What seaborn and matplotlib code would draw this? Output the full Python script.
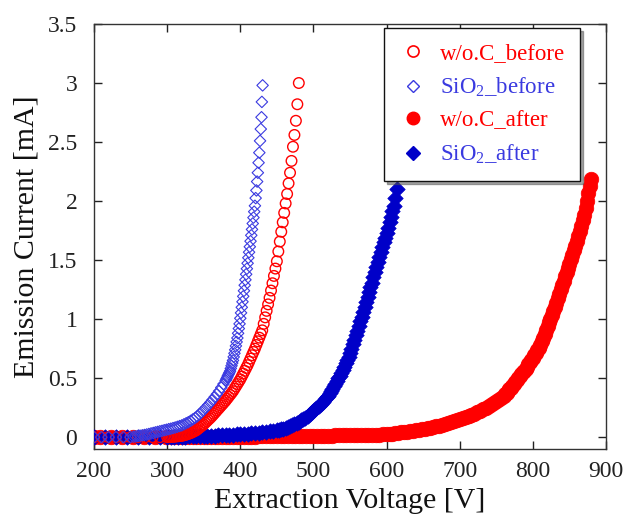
import matplotlib
matplotlib.use("Agg")
import matplotlib.pyplot as plt
import seaborn as sns
import pandas as pd
from matplotlib.lines import Line2D

# ---------------- data ----------------
# w/o.C_before (open red circles)
woc_before_v = [200, 210, 220, 230, 240, 250, 260, 270, 280, 290, 300,
                302, 304, 306, 308, 310, 312, 314, 316, 318, 320,
                322, 324, 326, 328, 330, 332, 334, 336, 338, 340,
                342, 344, 346, 348, 350, 352, 354, 356, 358, 360,
                362, 364, 366, 368, 370, 372, 374, 376, 378, 380,
                382, 384, 386, 388, 390, 392, 394, 396, 398, 400,
                402, 404, 406, 408, 410, 412, 414, 416, 418, 420,
                422, 424, 426, 428, 430, 432, 434, 436, 438, 440,
                442, 444, 446, 448, 450, 452, 454, 456, 458, 460,
                462, 464, 466, 468, 470, 472, 474, 476, 478, 480]
woc_before_i = [0, 0, 0, 0, 0, 0, 0, 0, 0, 0, 0,
                .001, .002, .003, .004, .005, .006, .008, .009, .010, .012,
                .015, .018, .022, .026, .030, .035, .041, .047, .053, .060,
                .070, .080, .090, .100, .110, .122, .134, .146, .158, .170,
                .184, .198, .212, .226, .240, .254, .268, .282, .296, .310,
                .326, .342, .358, .374, .390, .410, .430, .450, .470, .490,
                .514, .538, .562, .586, .610, .638, .666, .694, .722, .750,
                .781, .812, .843, .874, .905, .960, 1.015, 1.070, 1.125, 1.180,
                1.242, 1.304, 1.366, 1.428, 1.490, 1.573, 1.657, 1.740, 1.820, 1.900,
                1.980, 2.060, 2.150, 2.240, 2.340, 2.460, 2.560, 2.680, 2.820, 3.000]

# SiO2_before (open blue diamonds)
sio2_before_v = [200, 210, 220, 230, 240, 250,
                 254, 257, 260, 263, 266, 269, 272, 275, 278, 281,
                 284, 287, 290, 293, 296, 299, 302, 305, 308, 311,
                 314, 317, 320, 323, 326, 329, 332, 335, 338, 341,
                 344, 347, 350, 353, 356, 359, 362, 365, 368, 371,
                 374, 377, 380,
                 381, 382, 383, 384, 385, 386, 387, 388, 389, 390,
                 391, 392, 393, 394, 395, 396, 397, 398, 399, 400,
                 401, 402, 403, 404, 405, 406, 407, 408, 409, 410,
                 411, 412, 413, 414, 415, 416, 417, 418, 419, 420,
                 421, 422, 423, 424, 425, 426, 427, 428,
                 429, 429.5, 430.5]
sio2_before_i = [0, 0, 0, 0, 0, 0,
                 .004, .007, .010, .013, .016, .019, .023, .027, .032, .036,
                 .041, .045, .050, .054, .059, .063, .068, .072, .077, .082,
                 .088, .094, .100, .109, .118, .127, .138, .150, .162, .176,
                 .194, .212, .230, .251, .272, .293, .316, .340, .364, .390,
                 .420, .450, .480,
                 .493, .506, .520, .533, .546, .560, .582, .605, .628, .650,
                 .680, .710, .740, .773, .807, .840, .880, .920, .960, 1.007,
                 1.053, 1.100, 1.147, 1.193, 1.240, 1.287, 1.333, 1.380, 1.427, 1.473,
                 1.520, 1.567, 1.613, 1.660, 1.710, 1.760, 1.810, 1.860, 1.910, 1.960,
                 2.025, 2.090, 2.165, 2.240, 2.325, 2.410, 2.510, 2.610,
                 2.710, 2.840, 2.980]

# w/o.C_after (filled red circles)
woc_after_v = [200, 208, 223, 238, 253, 268, 283, 298,
               305, 310, 315, 320, 325, 330, 335, 340, 345, 350, 355,
               360, 365, 370, 375, 380, 385, 390, 395, 400,
               405, 410, 415, 420, 425, 430, 435, 440, 445, 450,
               455, 460, 465, 470, 475, 480, 485, 490, 495, 500,
               505, 510, 515, 520, 525, 530, 535, 540, 545, 550,
               555, 560, 565, 570, 575, 580, 585, 590, 595,
               600, 604, 608, 612, 616, 620, 624, 628, 632, 636,
               640, 644, 648, 652, 656, 660, 664, 668, 672, 676,
               680, 684, 688, 692, 696, 700, 704, 708, 712, 716,
               720, 724, 728, 732, 736, 740, 744, 748, 752, 756,
               760, 762, 764, 766, 768, 770, 772, 774, 776, 778,
               780, 782, 784, 786, 788, 790, 792, 794, 796, 798,
               800, 802, 804, 806, 808, 810, 812, 814, 816, 818,
               820, 822, 824, 826, 828, 830, 832, 834, 836, 838,
               840, 842, 844, 846, 848, 850, 852, 854, 856, 858,
               860, 862, 864, 866, 868, 870, 872, 874, 876, 878, 880]
woc_after_i = [0, 0, 0, 0, 0, 0, 0, 0,
               0, 0, 0, 0, 0, 0, 0, 0, 0, 0, 0,
               .001, .001, .002, .002, .003, .003, .003, .004, .004,
               .004, .005, .005, .005, .006, .006, .006, .007, .007, .007,
               .008, .008, .009, .009, .009, .010, .010, .011, .011, .012,
               .012, .013, .013, .014, .014, .015, .015, .016, .016, .017,
               .017, .018, .018, .019, .019, .020, .021, .022, .023,
               .025, .028, .031, .034, .037, .040, .044, .048, .052, .056,
               .060, .064, .068, .072, .076, .080, .086, .092, .098, .104,
               .110, .118, .126, .134, .142, .150, .160, .170, .180, .190,
               .200, .212, .224, .236, .248, .260, .278, .296, .314, .332,
               .350, .363, .377, .391, .405, .420, .436, .452, .468, .484,
               .500, .516, .532, .548, .564, .580, .598, .616, .634, .652,
               .670, .692, .714, .736, .758, .780, .812, .844, .876, .908,
               .940, .972, 1.004, 1.036, 1.068, 1.100, 1.138, 1.176, 1.214, 1.252,
               1.290, 1.326, 1.362, 1.398, 1.434, 1.470, 1.508, 1.546, 1.584, 1.622,
               1.660, 1.704, 1.748, 1.792, 1.836, 1.880, 1.942, 2.004, 2.066, 2.128, 2.190]

# SiO2_after (filled blue diamonds)
sio2_after_v = [200, 215, 230, 245, 260, 275, 290,
                300, 305, 310, 315, 320, 325, 330, 335, 340, 345,
                350, 355, 360, 365, 370, 375, 380, 385, 390, 395,
                400, 405, 410, 415, 420, 425, 430, 435, 440, 445,
                450, 453, 456, 459, 462, 465, 468, 471, 474, 477,
                480, 483, 486, 489, 492, 495, 498, 501, 504, 507,
                510, 513, 516, 519,
                520, 522, 524, 526, 528, 530, 532, 534, 536, 538,
                540, 542, 544, 546, 548, 550, 552, 554, 556, 558,
                560, 562, 564, 566, 568, 570, 572, 574, 576, 578,
                580, 582, 584, 586, 588, 590, 592, 594, 596, 598,
                600, 602, 604, 606, 608, 610, 612, 614]
sio2_after_i = [0, 0, 0, 0, 0, 0, 0,
                .003, .003, .004, .004, .005, .005, .006, .007, .008, .009,
                .010, .011, .012, .013, .015, .016, .018, .020, .022, .024,
                .026, .028, .030, .033, .036, .039, .042, .046, .050, .055,
                .060, .064, .068, .072, .080, .085, .093, .102, .110, .120,
                .130, .142, .154, .166, .180, .195, .210, .226, .244, .262,
                .280, .300, .320, .342,
                .350, .370, .390, .410, .430, .450, .474, .498, .522, .546,
                .570, .598, .626, .654, .682, .710, .748, .786, .824, .862,
                .900, .940, .980, 1.020, 1.060, 1.100, 1.142, 1.184, 1.226, 1.268,
                1.310, 1.354, 1.398, 1.442, 1.486, 1.530, 1.570, 1.610, 1.650, 1.690,
                1.730, 1.776, 1.822, 1.868, 1.914, 1.960, 2.030, 2.100]

series_names = ["w/o.C_before", r"SiO$_2$_before", "w/o.C_after", r"SiO$_2$_after"]
x_ticks = [200, 300, 400, 500, 600, 700, 800, 900]
y_ticks = [0, 0.5, 1, 1.5, 2, 2.5, 3, 3.5]
y_tick_labels = ["0", "0.5", "1", "1.5", "2", "2.5", "3", "3.5"]

# ---------------- style ----------------
sns.set_theme(style="ticks")
plt.rcParams["font.family"] = ["Liberation Serif", "DejaVu Serif"]
plt.rcParams["mathtext.fontset"] = "custom"
plt.rcParams["mathtext.rm"] = "Liberation Serif"
plt.rcParams["mathtext.it"] = "Liberation Serif:italic"
plt.rcParams["mathtext.bf"] = "Liberation Serif:bold"

RED = "#ff0000"
BLUE_B = "#3a3ae0"
BLUE_A = "#0000c8"

fig = plt.figure(figsize=(6.28, 5.19), dpi=100)
ax = fig.add_axes([0.1497, 0.1349, 0.8153, 0.8189])

df_wa = pd.DataFrame({"V": woc_after_v, "I": woc_after_i})
df_sa = pd.DataFrame({"V": sio2_after_v, "I": sio2_after_i})
df_wb = pd.DataFrame({"V": woc_before_v, "I": woc_before_i})
df_sb = pd.DataFrame({"V": sio2_before_v, "I": sio2_before_i})

sns.scatterplot(data=df_wa, x="V", y="I", ax=ax, marker="o", s=110,
                facecolor=RED, edgecolor=RED, linewidth=0.5, zorder=3)
sns.scatterplot(data=df_sa, x="V", y="I", ax=ax, marker="D", s=62,
                facecolor=BLUE_A, edgecolor=BLUE_A, linewidth=0.5, zorder=4)
sns.scatterplot(data=df_wb, x="V", y="I", ax=ax, marker="o", s=58,
                facecolor="none", edgecolor=RED, linewidth=1.0, zorder=5)
sns.scatterplot(data=df_sb, x="V", y="I", ax=ax, marker="D", s=34,
                facecolor="none", edgecolor=BLUE_B, linewidth=0.8, zorder=6)

ax.set_xlim(200, 900)
ax.set_ylim(-0.1, 3.5)
ax.set_xticks(x_ticks)
ax.set_yticks(y_ticks)
ax.set_yticklabels(y_tick_labels)
ax.tick_params(direction="in", top=True, right=True, length=6, width=1,
               labelsize=17, colors="#222222")
ax.tick_params(axis="x", pad=9)
ax.tick_params(axis="y", pad=12)
for sp in ax.spines.values():
    sp.set_color("#333333")
    sp.set_linewidth(1.0)
    sp.set_visible(True)

ax.set_xlabel("Extraction Voltage [V]", fontsize=21.5, color="#111111", labelpad=4)
ax.set_ylabel("Emission Current [mA]", fontsize=21.5, color="#111111", labelpad=6)

handles = [
    Line2D([], [], ls="none", marker="o", ms=8, mfc="none", mec=RED, mew=1.2),
    Line2D([], [], ls="none", marker="D", ms=6, mfc="none", mec=BLUE_B, mew=1.0),
    Line2D([], [], ls="none", marker="o", ms=9, mfc=RED, mec=RED),
    Line2D([], [], ls="none", marker="D", ms=7, mfc=BLUE_A, mec=BLUE_A),
]
leg = ax.legend(handles, series_names, loc="upper right", bbox_to_anchor=(0.95, 0.99),
                borderaxespad=0, fontsize=16.5, frameon=True, fancybox=False,
                shadow=True, handletextpad=0.6, handlelength=1.2,
                labelspacing=0.5, borderpad=0.65)
leg.get_frame().set_edgecolor("#111111")
leg.get_frame().set_linewidth(1.0)
for txt, col in zip(leg.get_texts(), [RED, BLUE_B, RED, BLUE_B]):
    txt.set_color(col)

fig.savefig("out.png", dpi=100)
